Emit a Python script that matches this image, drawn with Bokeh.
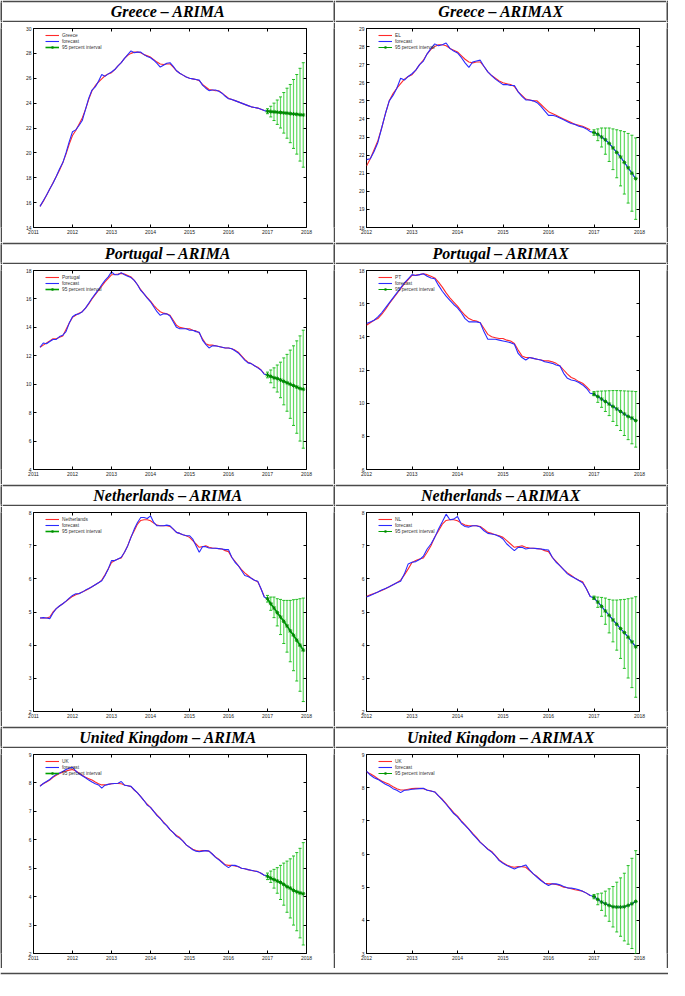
import numpy as np
from bokeh.plotting import figure
from bokeh.layouts import column, row
from bokeh.models import (FixedTicker, LinearAxis, Legend, LegendItem, Whisker,
                          TeeHead, ColumnDataSource, Range1d)
from bokeh.core.properties import value
from bokeh.embed import file_html
from bokeh.resources import INLINE

# ---------------- data (monthly) ----------------
# actual series, Mar 2011 .. Dec 2016
GR_ACT = [15.7, 16.1, 16.6, 17.1, 17.6, 18.1, 18.6, 19.2, 19.9, 20.7,
          21.4, 21.8, 22.3, 22.8, 23.5, 24.3, 25.0, 25.4, 25.7, 25.95, 26.2, 26.35,
          26.45, 26.7, 27.0, 27.25, 27.6, 27.85, 28.0, 28.1, 28.1, 28.05, 27.9, 27.8,
          27.7, 27.5, 27.3, 27.15, 27.1, 27.15, 27.15, 26.9, 26.6, 26.4, 26.25, 26.1,
          26.0, 25.95, 25.9, 25.8, 25.5, 25.3, 25.1, 25.05, 25.0, 25.0, 24.8, 24.6,
          24.4, 24.3, 24.2, 24.1, 24.0, 23.9, 23.8, 23.7, 23.65, 23.6, 23.5, 23.4]
GR_FIT_ARIMA = [15.7, 16.15, 16.6, 17.1, 17.55, 18.1, 18.7, 19.2, 20.0, 20.9,
                21.7, 21.85, 22.2, 22.6, 23.5, 24.4, 25.05, 25.3, 25.75, 26.3, 26.15, 26.35,
                26.5, 26.7, 27.0, 27.25, 27.6, 27.9, 28.2, 28.05, 28.1, 28.1, 27.9, 27.75,
                27.65, 27.45, 27.2, 26.9, 27.05, 27.2, 27.25, 26.95, 26.6, 26.4, 26.25, 26.1,
                26.0, 25.95, 25.9, 25.85, 25.45, 25.2, 25.0, 25.05, 25.05, 24.95, 24.8, 24.55,
                24.35, 24.3, 24.2, 24.1, 24.0, 23.9, 23.8, 23.7, 23.65, 23.6, 23.5, 23.4]
GR_FIT_ARIMAX = [21.75, 21.8, 22.2, 22.7, 23.5, 24.3, 25.0, 25.3, 25.7, 26.25, 26.15, 26.35,
                 26.5, 26.7, 27.0, 27.2, 27.6, 27.9, 28.15, 28.05, 28.1, 28.2, 27.9, 27.75,
                 27.65, 27.4, 27.1, 26.85, 27.15, 27.2, 27.25, 26.9, 26.6, 26.4, 26.2, 26.05,
                 25.9, 25.9, 25.85, 25.85, 25.5, 25.25, 25.05, 25.05, 25.0, 24.9, 24.7, 24.45,
                 24.2, 24.2, 24.15, 24.05, 23.95, 23.85, 23.75, 23.7, 23.6, 23.55, 23.45, 23.3]
GR_ARIMA_FC = [23.35, 23.32, 23.3, 23.27, 23.25, 23.22, 23.19, 23.16, 23.13, 23.1, 23.07, 23.05]
GR_ARIMA_HI = [23.55, 23.75, 24.0, 24.25, 24.5, 24.85, 25.2, 25.5, 25.9, 26.3, 26.8, 27.25]
GR_ARIMA_LO = [23.15, 22.89, 22.6, 22.29, 22.0, 21.59, 21.18, 20.82, 20.36, 19.9, 19.34, 18.85]
GR_ARIMAX_FC = [23.25, 23.15, 23.0, 22.85, 22.65, 22.4, 22.15, 21.9, 21.6, 21.3, 21.0, 20.7]
GR_ARIMAX_HI = [23.4, 23.45, 23.5, 23.5, 23.5, 23.45, 23.4, 23.35, 23.3, 23.2, 23.1, 22.95]
GR_ARIMAX_LO = [23.1, 22.8, 22.45, 22.05, 21.65, 21.2, 20.75, 20.3, 19.85, 19.35, 18.9, 18.45]

PT_ACT = [12.6, 12.75, 12.9, 13.05, 13.2, 13.2, 13.3, 13.4, 13.85, 14.3,
          14.7, 14.85, 15.0, 15.1, 15.35, 15.65, 16.0, 16.3, 16.6, 16.9, 17.2, 17.45,
          17.7, 17.72, 17.75, 17.8, 17.75, 17.65, 17.55, 17.3, 17.0, 16.65, 16.35, 16.1,
          15.85, 15.55, 15.3, 15.1, 15.0, 14.95, 14.85, 14.5, 14.15, 14.0, 13.95, 13.9,
          13.9, 13.8, 13.75, 13.6, 13.2, 12.85, 12.75, 12.75, 12.7, 12.65, 12.6, 12.55,
          12.55, 12.5, 12.4, 12.25, 12.0, 11.75, 11.55, 11.45, 11.3, 11.2, 11.0, 10.75]
PT_FIT_ARIMA = [12.6, 12.9, 12.85, 13.0, 13.15, 13.15, 13.35, 13.45, 13.7, 14.3,
                14.75, 14.9, 14.95, 15.1, 15.35, 15.7, 16.05, 16.35, 16.65, 17.0, 17.3, 17.55,
                17.9, 17.7, 17.7, 17.85, 17.7, 17.6, 17.5, 17.3, 17.0, 16.6, 16.35, 16.05,
                15.8, 15.45, 15.1, 14.85, 14.95, 14.95, 14.8, 14.4, 14.0, 13.9, 13.9, 13.9,
                13.8, 13.8, 13.7, 13.65, 13.1, 12.8, 12.55, 12.7, 12.7, 12.65, 12.6, 12.55,
                12.55, 12.5, 12.35, 12.2, 11.95, 11.7, 11.5, 11.45, 11.3, 11.15, 11.0, 10.7]
PT_FIT_ARIMAX = [14.8, 14.9, 15.0, 15.2, 15.45, 15.75, 16.05, 16.35, 16.65, 16.95, 17.25, 17.5,
                 17.75, 17.7, 17.75, 17.8, 17.65, 17.55, 17.5, 17.1, 16.75, 16.45, 16.2, 15.95,
                 15.75, 15.45, 15.1, 14.9, 14.9, 14.9, 14.85, 14.3, 13.85, 13.85, 13.85, 13.8,
                 13.75, 13.7, 13.65, 13.55, 13.0, 12.75, 12.6, 12.75, 12.7, 12.65, 12.6, 12.5,
                 12.45, 12.4, 12.3, 12.25, 11.8, 11.5, 11.4, 11.35, 11.25, 11.1, 10.9, 10.6]
PT_ARIMA_FC = [10.65, 10.55, 10.45, 10.4, 10.3, 10.2, 10.1, 10.0, 9.9, 9.8, 9.7, 9.65]
PT_ARIMA_HI = [10.85, 11.0, 11.15, 11.35, 11.55, 11.85, 12.1, 12.4, 12.7, 13.05, 13.4, 13.8]
PT_ARIMA_LO = [10.45, 10.1, 9.75, 9.45, 9.05, 8.55, 8.1, 7.6, 7.1, 6.55, 6.0, 5.5]
PT_ARIMAX_FC = [10.55, 10.4, 10.25, 10.1, 9.95, 9.8, 9.65, 9.5, 9.35, 9.2, 9.1, 8.95]
PT_ARIMAX_HI = [10.7, 10.72, 10.73, 10.74, 10.75, 10.76, 10.76, 10.75, 10.74, 10.73, 10.72, 10.7]
PT_ARIMAX_LO = [10.45, 10.05, 9.75, 9.5, 9.25, 8.9, 8.65, 8.35, 8.05, 7.8, 7.55, 7.35]

NL_ACT = [4.82, 4.82, 4.82, 4.85, 5.0, 5.1, 5.18, 5.25, 5.32, 5.4,
          5.47, 5.52, 5.56, 5.6, 5.65, 5.7, 5.76, 5.82, 5.88, 5.96, 6.12, 6.3,
          6.49, 6.55, 6.6, 6.63, 6.8, 7.0, 7.26, 7.45, 7.65, 7.76, 7.78, 7.78,
          7.75, 7.68, 7.62, 7.6, 7.6, 7.6, 7.58, 7.5, 7.4, 7.37, 7.33, 7.3,
          7.25, 7.15, 7.05, 6.95, 6.97, 7.0, 6.95, 6.93, 6.92, 6.91, 6.9, 6.85,
          6.82, 6.65, 6.53, 6.4, 6.28, 6.18, 6.1, 6.02, 5.96, 5.91, 5.7, 5.47]
NL_FIT_ARIMA = [4.82, 4.83, 4.82, 4.8, 4.97, 5.1, 5.18, 5.25, 5.33, 5.42,
                5.5, 5.55, 5.55, 5.6, 5.66, 5.71, 5.76, 5.82, 5.88, 5.94, 6.1, 6.3,
                6.55, 6.55, 6.6, 6.65, 6.8, 7.0, 7.25, 7.5, 7.7, 7.85, 7.85, 7.82,
                7.9, 7.7, 7.6, 7.6, 7.6, 7.62, 7.6, 7.5, 7.4, 7.37, 7.33, 7.3,
                7.3, 7.2, 7.0, 6.8, 6.97, 6.97, 6.93, 6.92, 6.92, 6.91, 6.9, 6.88,
                6.88, 6.65, 6.5, 6.4, 6.25, 6.1, 6.07, 6.02, 5.96, 5.93, 5.7, 5.45]
NL_FIT_ARIMAX = [5.45, 5.5, 5.55, 5.6, 5.66, 5.71, 5.76, 5.82, 5.88, 5.93, 6.15, 6.45,
                 6.5, 6.52, 6.58, 6.68, 6.9, 7.05, 7.25, 7.5, 7.72, 7.95, 7.78, 7.8,
                 7.88, 7.65, 7.58, 7.56, 7.6, 7.6, 7.56, 7.45, 7.37, 7.35, 7.33, 7.28,
                 7.2, 7.05, 6.95, 6.85, 6.95, 6.95, 6.9, 6.92, 6.92, 6.91, 6.9, 6.88,
                 6.87, 6.65, 6.5, 6.4, 6.28, 6.15, 6.08, 6.02, 5.95, 5.88, 5.7, 5.47]
NL_ARIMA_FC = [5.4, 5.25, 5.12, 4.98, 4.85, 4.72, 4.58, 4.43, 4.3, 4.15, 4.0, 3.85]
NL_ARIMA_HI = [5.5, 5.45, 5.45, 5.4, 5.38, 5.35, 5.35, 5.35, 5.37, 5.38, 5.4, 5.42]
NL_ARIMA_LO = [5.3, 5.05, 4.83, 4.58, 4.32, 4.05, 3.79, 3.5, 3.23, 2.92, 2.61, 2.3]
NL_ARIMAX_FC = [5.42, 5.3, 5.17, 5.03, 4.9, 4.76, 4.63, 4.5, 4.38, 4.24, 4.1, 3.95]
NL_ARIMAX_HI = [5.48, 5.45, 5.44, 5.42, 5.38, 5.36, 5.36, 5.37, 5.38, 5.4, 5.42, 5.46]
NL_ARIMAX_LO = [5.38, 5.14, 4.87, 4.63, 4.37, 4.1, 3.85, 3.6, 3.3, 3.01, 2.72, 2.43]

UK_ACT = [7.9, 7.97, 8.03, 8.1, 8.2, 8.27, 8.33, 8.38, 8.42, 8.45,
          8.47, 8.42, 8.35, 8.27, 8.2, 8.15, 8.1, 8.03, 7.97, 7.93, 7.93, 7.95,
          7.97, 7.98, 7.98, 7.97, 7.93, 7.9, 7.87, 7.75, 7.65, 7.52, 7.38, 7.25,
          7.14, 7.0, 6.88, 6.75, 6.62, 6.5, 6.36, 6.25, 6.15, 6.08, 5.95, 5.82,
          5.74, 5.67, 5.62, 5.6, 5.62, 5.62, 5.6, 5.5, 5.4, 5.32, 5.22, 5.12,
          5.1, 5.1, 5.08, 5.05, 5.0, 4.98, 4.95, 4.92, 4.9, 4.88, 4.82, 4.75]
UK_FIT_ARIMA = [7.88, 7.98, 8.05, 8.12, 8.22, 8.3, 8.35, 8.4, 8.47, 8.52,
                8.55, 8.42, 8.32, 8.25, 8.18, 8.1, 8.03, 7.97, 7.93, 7.82, 7.92, 7.95,
                7.97, 7.98, 7.99, 8.05, 7.92, 7.9, 7.88, 7.76, 7.65, 7.52, 7.38, 7.22,
                7.14, 7.0, 6.85, 6.75, 6.6, 6.5, 6.36, 6.25, 6.12, 6.05, 5.95, 5.82,
                5.74, 5.65, 5.6, 5.58, 5.6, 5.62, 5.6, 5.5, 5.38, 5.3, 5.2, 5.1,
                5.02, 5.1, 5.1, 5.06, 5.0, 4.98, 4.95, 4.93, 4.9, 4.88, 4.82, 4.75]
UK_FIT_ARIMAX = [8.5, 8.38, 8.3, 8.25, 8.18, 8.1, 8.05, 7.97, 7.92, 7.85, 7.92, 7.93,
                 7.95, 7.96, 7.97, 7.98, 7.92, 7.9, 7.87, 7.75, 7.63, 7.5, 7.36, 7.22,
                 7.12, 6.98, 6.86, 6.74, 6.6, 6.48, 6.35, 6.25, 6.14, 6.06, 5.94, 5.8,
                 5.72, 5.65, 5.6, 5.55, 5.6, 5.63, 5.67, 5.52, 5.4, 5.3, 5.2, 5.12,
                 5.05, 5.1, 5.1, 5.07, 5.02, 4.98, 4.97, 4.95, 4.92, 4.88, 4.82, 4.75]
UK_ARIMA_FC = [4.72, 4.65, 4.6, 4.55, 4.5, 4.43, 4.35, 4.3, 4.22, 4.17, 4.13, 4.1]
UK_ARIMA_HI = [4.83, 4.9, 4.96, 5.02, 5.1, 5.18, 5.25, 5.33, 5.43, 5.55, 5.7, 5.9]
UK_ARIMA_LO = [4.6, 4.5, 4.3, 4.12, 3.9, 3.7, 3.45, 3.25, 3.0, 2.8, 2.55, 2.3]
UK_ARIMAX_FC = [4.72, 4.63, 4.55, 4.5, 4.45, 4.41, 4.4, 4.4, 4.41, 4.45, 4.5, 4.57]
UK_ARIMAX_HI = [4.78, 4.8, 4.82, 4.88, 4.95, 5.02, 5.15, 5.28, 5.42, 5.65, 5.87, 6.1]
UK_ARIMAX_LO = [4.65, 4.47, 4.3, 4.13, 3.97, 3.8, 3.65, 3.52, 3.38, 3.28, 3.15, 3.0]

TITLES = ["Greece \u2013 ARIMA", "Greece \u2013 ARIMAX",
          "Portugal \u2013 ARIMA", "Portugal \u2013 ARIMAX",
          "Netherlands \u2013 ARIMA", "Netherlands \u2013 ARIMAX",
          "United Kingdom \u2013 ARIMA", "United Kingdom \u2013 ARIMAX"]
SERIES_NAMES = ["Greece", "EL", "Portugal", "PT", "Netherlands", "NL", "UK", "UK"]
FIT_LABEL = "forecast"
INT_LABEL = "95 percent interval"
X_TICKS_ARIMA = [2011, 2012, 2013, 2014, 2015, 2016, 2017, 2018]
X_TICKS_ARIMAX = [2012, 2013, 2014, 2015, 2016, 2017, 2018]
Y_TICKS = [[14, 16, 18, 20, 22, 24, 26, 28, 30],
           [18, 19, 20, 21, 22, 23, 24, 25, 26, 27, 28, 29],
           [4, 6, 8, 10, 12, 14, 16, 18],
           [6, 8, 10, 12, 14, 16, 18],
           [2, 3, 4, 5, 6, 7, 8],
           [2, 3, 4, 5, 6, 7, 8],
           [2, 3, 4, 5, 6, 7, 8, 9],
           [3, 4, 5, 6, 7, 8, 9]]

# ---------------- styles ----------------
RED = "#ff2a2a"
BLUE = "#2a2aff"
GREEN_BAR = "#44d444"
GREEN_LINE = "#00a000"
GREEN_MARK = "#008a00"
RULE = "#4a4a4a"
TICK_FONT = "Liberation Sans"

RW = 2                 # rule thickness
CELL_W = 331
TITLE_IN = 18
TITLE_H = TITLE_IN + 2 * RW
CHART_H = 220
TOTAL_W = 2 * CELL_W + 3 * RW
FRAME_H = CHART_H - 6 - 15


def months(year, month, n):
    return [year + (month - 1 + i) / 12.0 for i in range(n)]


def rule(w, h):
    f = figure(width=w, height=h, output_backend="svg", toolbar_location=None,
               title=None, min_border=0, x_axis_location=None, y_axis_location=None,
               outline_line_color=None, background_fill_color=RULE,
               border_fill_color=RULE, x_range=Range1d(0, 1), y_range=Range1d(0, 1))
    f.grid.grid_line_color = None
    return f


def band(w, h, top, bottom):
    # white strip whose top / bottom borders are the table's rules
    f = figure(width=w, height=h, output_backend="svg", toolbar_location=None,
               title=None, min_border_left=0, min_border_right=0,
               min_border_top=top, min_border_bottom=bottom,
               x_axis_location=None, y_axis_location=None,
               outline_line_color=None, background_fill_color="white",
               border_fill_color=RULE, x_range=Range1d(0, 1), y_range=Range1d(0, 1))
    f.grid.grid_line_color = None
    return f


def title_fig(text):
    f = band(CELL_W, TITLE_H, RW, RW)
    f.text(x=[0.5], y=[0.5], text=[text], text_font=value("Liberation Serif"),
           text_font_style="bold italic", text_font_size="16px",
           text_align="center", text_baseline="middle", text_color="black")
    return f


def chart(idx, name, actual, fitted, fc, lo, hi, arimax):
    if arimax:
        hx = months(2012, 1, len(fitted))
        act = actual[10:]
        xr = (2012, 2018)
        xt = X_TICKS_ARIMAX
    else:
        hx = months(2011, 3, len(fitted))
        act = actual
        xr = (2011, 2018)
        xt = X_TICKS_ARIMA
    fx = months(2017, 1, len(fc))
    yt = Y_TICKS[idx]

    p = figure(width=CELL_W, height=CHART_H, output_backend="svg", toolbar_location=None,
               x_range=Range1d(*xr), y_range=Range1d(yt[0], yt[-1]),
               min_border_left=31, min_border_right=27, min_border_top=6,
               min_border_bottom=15)
    p.grid.grid_line_color = None
    p.outline_line_color = "black"
    p.outline_line_width = 1
    p.background_fill_color = "white"
    p.border_fill_color = "white"

    for ax, ticks in ((p.xaxis[0], xt), (p.yaxis[0], yt)):
        ax.ticker = FixedTicker(ticks=ticks)
        ax.axis_line_color = None
        ax.major_tick_in = 3
        ax.major_tick_out = 0
        ax.major_tick_line_color = "black"
        ax.minor_tick_line_color = None
        ax.major_label_text_font = TICK_FONT
        ax.major_label_text_font_size = "5px"
        ax.major_label_text_color = "#222222"
        ax.major_label_standoff = 2
    for loc, ticks in (("above", xt), ("right", yt)):
        m = LinearAxis(ticker=FixedTicker(ticks=ticks), axis_line_color=None,
                       major_tick_in=3, major_tick_out=0, minor_tick_line_color=None,
                       major_label_text_font_size="0px", major_label_text_color=None,
                       major_label_standoff=0)
        p.add_layout(m, loc)

    src = ColumnDataSource(dict(x=fx, lo=lo, hi=hi))
    wh = Whisker(source=src, base="x", lower="lo", upper="hi",
                 line_color=GREEN_BAR, line_width=1.2, line_alpha=0.85,
                 upper_head=TeeHead(size=3, line_color="#22bb22", line_width=1),
                 lower_head=TeeHead(size=3, line_color="#22bb22", line_width=1))
    p.add_layout(wh)

    r_act = p.line(hx, act, line_color=RED, line_width=1.1)
    if arimax:
        g_line = p.line(fx, fc, line_color=GREEN_LINE, line_width=1)
        r_fit = p.line(hx + fx, fitted + fc, line_color=BLUE, line_width=1.1)
    else:
        r_fit = p.line(hx + fx, fitted + fc, line_color=BLUE, line_width=1.1)
        g_line = p.line(fx, fc, line_color=GREEN_LINE, line_width=1.6)
    g_mark = p.scatter(fx, fc, marker="asterisk", size=4, line_color=GREEN_MARK,
                       line_width=1)

    legend = Legend(items=[LegendItem(label=name, renderers=[r_act]),
                           LegendItem(label=FIT_LABEL, renderers=[r_fit]),
                           LegendItem(label=INT_LABEL, renderers=[g_line, g_mark])],
                    location=(12, FRAME_H - 4 - 18), orientation="vertical",
                    label_text_font=TICK_FONT, label_text_font_size="4.8px",
                    label_text_color="#333333", label_height=6, glyph_height=6,
                    glyph_width=14, label_standoff=3, spacing=0, padding=0, margin=0,
                    background_fill_alpha=0, border_line_color=None)
    p.add_layout(legend)
    return p


PANELS = [
    (GR_ACT, GR_FIT_ARIMA, GR_ARIMA_FC, GR_ARIMA_LO, GR_ARIMA_HI, False),
    (GR_ACT, GR_FIT_ARIMAX, GR_ARIMAX_FC, GR_ARIMAX_LO, GR_ARIMAX_HI, True),
    (PT_ACT, PT_FIT_ARIMA, PT_ARIMA_FC, PT_ARIMA_LO, PT_ARIMA_HI, False),
    (PT_ACT, PT_FIT_ARIMAX, PT_ARIMAX_FC, PT_ARIMAX_LO, PT_ARIMAX_HI, True),
    (NL_ACT, NL_FIT_ARIMA, NL_ARIMA_FC, NL_ARIMA_LO, NL_ARIMA_HI, False),
    (NL_ACT, NL_FIT_ARIMAX, NL_ARIMAX_FC, NL_ARIMAX_LO, NL_ARIMAX_HI, True),
    (UK_ACT, UK_FIT_ARIMA, UK_ARIMA_FC, UK_ARIMA_LO, UK_ARIMA_HI, False),
    (UK_ACT, UK_FIT_ARIMAX, UK_ARIMAX_FC, UK_ARIMAX_LO, UK_ARIMAX_HI, True),
]

rows = []
for r in range(4):
    li, ri = 2 * r, 2 * r + 1
    rows.append(row(rule(RW, TITLE_H), title_fig(TITLES[li]), rule(RW, TITLE_H),
                    title_fig(TITLES[ri]), rule(RW, TITLE_H)))
    charts = []
    for i in (li, ri):
        act, fit, fc, lo, hi, ax = PANELS[i]
        charts.append(chart(i, SERIES_NAMES[i], act, fit, fc, lo, hi, ax))
    rows.append(row(rule(RW, CHART_H), charts[0], rule(RW, CHART_H), charts[1],
                    rule(RW, CHART_H)))
# closing rule at the bottom of the table
rows.append(band(TOTAL_W, RW + 6, RW, 0))

layout = column(*rows)
open("out.html", "w").write(file_html(layout, INLINE))
